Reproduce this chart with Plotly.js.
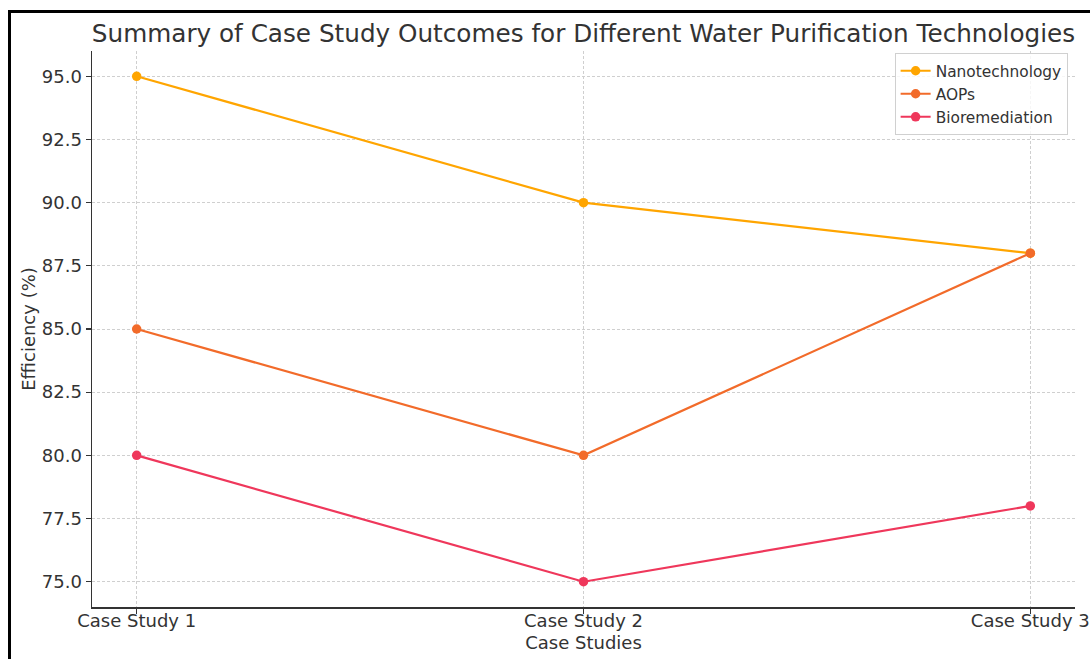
<!DOCTYPE html>
<html>
<head>
<meta charset="utf-8">
<script src="https://cdn.plot.ly/plotly-3.0.1.min.js"></script>
<style>
  html, body { margin: 0; padding: 0; background: #fff; overflow: hidden; }
  #chart { width: 1090px; height: 659px; position: relative; }
  #frame { position: absolute; left: 8px; top: 10px; width: 1200px; height: 800px;
           border-left: 3px solid #000; border-top: 3px solid #000; pointer-events: none; }
</style>
</head>
<body>
<div id="chart"></div>
<div id="frame"></div>
<script>
const caseStudies = ["Case Study 1", "Case Study 2", "Case Study 3"];
const nanotechnology = [95, 90, 88];
const aops = [85, 80, 88];
const bioremediation = [80, 75, 78];
const yTicks = [75.0, 77.5, 80.0, 82.5, 85.0, 87.5, 90.0, 92.5, 95.0];
const yTickText = yTicks.map(v => v.toFixed(1));

const font = "DejaVu Sans, sans-serif";
function series(name, y, color) {
  return {
    x: caseStudies, y: y, name: name, type: "scatter", mode: "lines+markers",
    line: { color: color, width: 2.2 },
    marker: { color: color, size: 9.5 }
  };
}
const data = [
  series("Nanotechnology", nanotechnology, "#FFA500"),
  series("AOPs", aops, "#F26B2A"),
  series("Bioremediation", bioremediation, "#EF375B")
];
const layout = {
  width: 1090, height: 659,
  margin: { l: 92, r: 15, t: 51, b: 52 },
  paper_bgcolor: "#fff", plot_bgcolor: "#fff",
  font: { family: font, color: "#333", size: 18 },
  title: { text: "Summary of Case Study Outcomes for Different Water Purification Technologies",
           font: { family: font, size: 24.7, color: "#333" },
           x: 0.5, xref: "paper", xanchor: "center", y: 1 - 33/659, yanchor: "middle" },
  xaxis: {
    type: "category", range: [-0.1, 2.1],
    title: { text: "Case Studies", font: { size: 18, color: "#333" }, standoff: 6 },
    tickfont: { size: 18, color: "#333" },
    ticklabelstandoff: -8,
    showgrid: true, gridcolor: "#cfcfcf", griddash: "3px,2px", gridwidth: 1,
    showline: true, linecolor: "#333", linewidth: 1.5,
    ticks: "outside", ticklen: 5, tickcolor: "#333", tickwidth: 1.2,
    zeroline: false, fixedrange: true
  },
  yaxis: {
    range: [74, 96],
    title: { text: "Efficiency (%)", font: { size: 18, color: "#333" }, standoff: 1 },
    tickvals: yTicks, ticktext: yTickText,
    tickfont: { size: 18, color: "#333" },
    showgrid: true, gridcolor: "#cfcfcf", griddash: "3px,2px", gridwidth: 1,
    showline: true, linecolor: "#333", linewidth: 1.5,
    ticks: "outside", ticklen: 5, tickcolor: "#333", tickwidth: 1.2,
    zeroline: false, fixedrange: true
  },
  showlegend: true,
  legend: {
    x: 0.9925, y: 0.996, xanchor: "right", yanchor: "top",
    bgcolor: "rgba(255,255,255,0.8)", bordercolor: "#d0d0d0", borderwidth: 1,
    font: { family: font, size: 15.4, color: "#333" },
    tracegroupgap: 0
  }
};
Plotly.newPlot("chart", data, layout, { displayModeBar: false, staticPlot: true });
</script>
</body>
</html>
